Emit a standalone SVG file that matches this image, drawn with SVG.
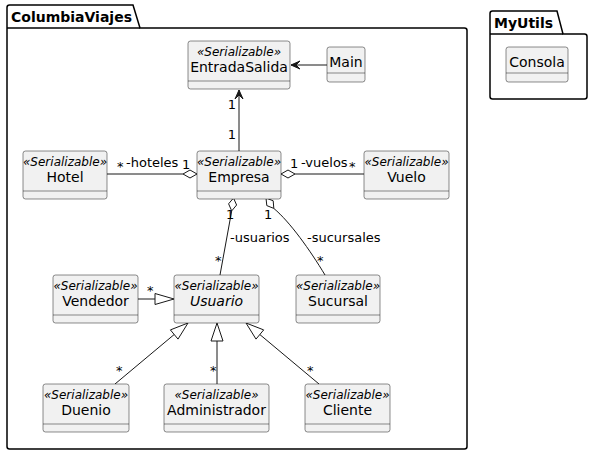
<svg xmlns="http://www.w3.org/2000/svg" width="590" height="455" viewBox="0 0 590 455">
<style>
.bg{fill:#FFFFFF}
.pkg{fill:none;stroke:#000000;stroke-width:1.5}
.ptitle{font-family:"DejaVu Sans",sans-serif;font-size:14px;font-weight:bold;fill:#000000}
.box{fill:#F1F1F1;stroke:#181818;stroke-width:0.5}
.div{stroke:#181818;stroke-width:0.5}
.st{font-family:"DejaVu Sans",sans-serif;font-size:12px;font-style:italic;fill:#000000;text-anchor:middle}
.nm{font-family:"DejaVu Sans",sans-serif;font-size:14px;fill:#000000;text-anchor:middle}
.it{font-style:italic}
.ln{fill:none;stroke:#181818;stroke-width:1}
.ah{fill:#181818;stroke:#181818;stroke-width:1}
.dm{fill:#FFFFFF;stroke:#181818;stroke-width:1}
.tri{fill:#FFFFFF;stroke:#181818;stroke-width:1}
.lb{font-family:"DejaVu Sans",sans-serif;font-size:13px;fill:#000000}
</style>
<rect class="bg" x="0" y="0" width="590" height="455"/>
<g id="pkg-ColumbiaViajes">
<path class="pkg" d="M9.5,5 L133,5 L140,28 L464.5,28 Q467,28 467,30.5 L467,446.5 Q467,449 464.5,449 L9.5,449 Q7,449 7,446.5 L7,7.5 Q7,5 9.5,5 Z"/>
<line class="pkg" x1="7" y1="28" x2="140" y2="28"/>
<text class="ptitle" x="11" y="22">ColumbiaViajes</text>
</g>
<g id="pkg-MyUtils">
<path class="pkg" d="M492.5,11 L557,11 L563,34 L584.5,34 Q587,34 587,36.5 L587,96.5 Q587,99 584.5,99 L492.5,99 Q490,99 490,96.5 L490,13.5 Q490,11 492.5,11 Z"/>
<line class="pkg" x1="490" y1="34" x2="563" y2="34"/>
<text class="ptitle" x="494" y="28">MyUtils</text>
</g>
<g id="connectors">
<line class="ln" x1="327" y1="65" x2="291" y2="65"/>
<polygon class="ah" points="291,65 300,61 296,65 300,69"/>
<line class="ln" x1="239" y1="151" x2="239" y2="90"/>
<polygon class="ah" points="239,90 235,99 239,95 243,99"/>
<text class="lb" x="236" y="109" text-anchor="end">1</text>
<text class="lb" x="236" y="139" text-anchor="end">1</text>
<line class="ln" x1="107" y1="174" x2="183" y2="174"/>
<polygon class="dm" points="197,174 190,170 183,174 190,178"/>
<text class="lb" x="117" y="171">*</text>
<text class="lb" x="126" y="167">-hoteles</text>
<text class="lb" x="182" y="169">1</text>
<line class="ln" x1="295" y1="174" x2="364" y2="174"/>
<polygon class="dm" points="281,174 288,170 295,174 288,178"/>
<text class="lb" x="290" y="168">1</text>
<text class="lb" x="301" y="167">-vuelos</text>
<text class="lb" x="349" y="171">*</text>
<line class="ln" x1="231.7" y1="210.9" x2="220" y2="275"/>
<polygon class="dm" points="233.5,198 236.6,205 231.7,210.9 228.6,203.8"/>
<text class="lb" x="226" y="219">1</text>
<text class="lb" x="230" y="242">-usuarios</text>
<text class="lb" x="215" y="265">*</text>
<path class="ln" d="M273.8,208.4 C290,222 310,250 325,275"/>
<polygon class="dm" points="266,198 273.2,200.8 273.8,208.4 266.8,205.6"/>
<text class="lb" x="264" y="219">1</text>
<text class="lb" x="307" y="242">-sucursales</text>
<text class="lb" x="317" y="265">*</text>
<line class="ln" x1="138" y1="299" x2="155" y2="299"/>
<polygon class="tri" points="174,299 155,293.5 155,304.5"/>
<text class="lb" x="147" y="295">*</text>
<line class="ln" x1="115" y1="384" x2="174.2" y2="334.5"/>
<polygon class="tri" points="188,323 178,339.1 170.4,329.9"/>
<text class="lb" x="116" y="375">*</text>
<line class="ln" x1="217" y1="384" x2="217" y2="341"/>
<polygon class="tri" points="217,323 223,341 211,341"/>
<text class="lb" x="210" y="375">*</text>
<line class="ln" x1="319" y1="384" x2="259.8" y2="334.5"/>
<polygon class="tri" points="246,323 263.7,329.9 256,339.1"/>
<text class="lb" x="307" y="375">*</text>
</g>
<g id="EntradaSalida">
<rect class="box" x="188" y="41" width="102" height="48" rx="2.5"/>
<line class="div" x1="188" y1="81" x2="290" y2="81"/>
<text class="st" x="239" y="56">«Serializable»</text>
<text class="nm" x="239" y="72">EntradaSalida</text>
</g>
<g id="Main">
<rect class="box" x="327" y="47" width="38" height="35" rx="2.5"/>
<line class="div" x1="327" y1="73" x2="365" y2="73"/>
<text class="nm" x="346" y="67">Main</text>
</g>
<g id="Consola">
<rect class="box" x="506" y="47" width="62" height="35" rx="2.5"/>
<line class="div" x1="506" y1="73" x2="568" y2="73"/>
<text class="nm" x="537" y="67">Consola</text>
</g>
<g id="Hotel">
<rect class="box" x="23" y="151" width="84" height="48" rx="2.5"/>
<line class="div" x1="23" y1="191" x2="107" y2="191"/>
<text class="st" x="65" y="166">«Serializable»</text>
<text class="nm" x="65" y="182">Hotel</text>
</g>
<g id="Empresa">
<rect class="box" x="197" y="151" width="84" height="48" rx="2.5"/>
<line class="div" x1="197" y1="191" x2="281" y2="191"/>
<text class="st" x="239" y="166">«Serializable»</text>
<text class="nm" x="239" y="182">Empresa</text>
</g>
<g id="Vuelo">
<rect class="box" x="364" y="151" width="85" height="48" rx="2.5"/>
<line class="div" x1="364" y1="191" x2="449" y2="191"/>
<text class="st" x="406.5" y="166">«Serializable»</text>
<text class="nm" x="406.5" y="182">Vuelo</text>
</g>
<g id="Vendedor">
<rect class="box" x="53" y="275" width="85" height="48" rx="2.5"/>
<line class="div" x1="53" y1="315" x2="138" y2="315"/>
<text class="st" x="95.5" y="290">«Serializable»</text>
<text class="nm" x="95.5" y="306">Vendedor</text>
</g>
<g id="Usuario">
<rect class="box" x="174" y="275" width="85" height="48" rx="2.5"/>
<line class="div" x1="174" y1="315" x2="259" y2="315"/>
<text class="st" x="216.5" y="290">«Serializable»</text>
<text class="nm it" x="216.5" y="306">Usuario</text>
</g>
<g id="Sucursal">
<rect class="box" x="296" y="275" width="84" height="48" rx="2.5"/>
<line class="div" x1="296" y1="315" x2="380" y2="315"/>
<text class="st" x="338" y="290">«Serializable»</text>
<text class="nm" x="338" y="306">Sucursal</text>
</g>
<g id="Duenio">
<rect class="box" x="43" y="384" width="86" height="48" rx="2.5"/>
<line class="div" x1="43" y1="424" x2="129" y2="424"/>
<text class="st" x="86" y="399">«Serializable»</text>
<text class="nm" x="86" y="415">Duenio</text>
</g>
<g id="Administrador">
<rect class="box" x="164" y="384" width="105" height="48" rx="2.5"/>
<line class="div" x1="164" y1="424" x2="269" y2="424"/>
<text class="st" x="216.5" y="399">«Serializable»</text>
<text class="nm" x="216.5" y="415">Administrador</text>
</g>
<g id="Cliente">
<rect class="box" x="305" y="384" width="85" height="48" rx="2.5"/>
<line class="div" x1="305" y1="424" x2="390" y2="424"/>
<text class="st" x="347.5" y="399">«Serializable»</text>
<text class="nm" x="347.5" y="415">Cliente</text>
</g>
</svg>
